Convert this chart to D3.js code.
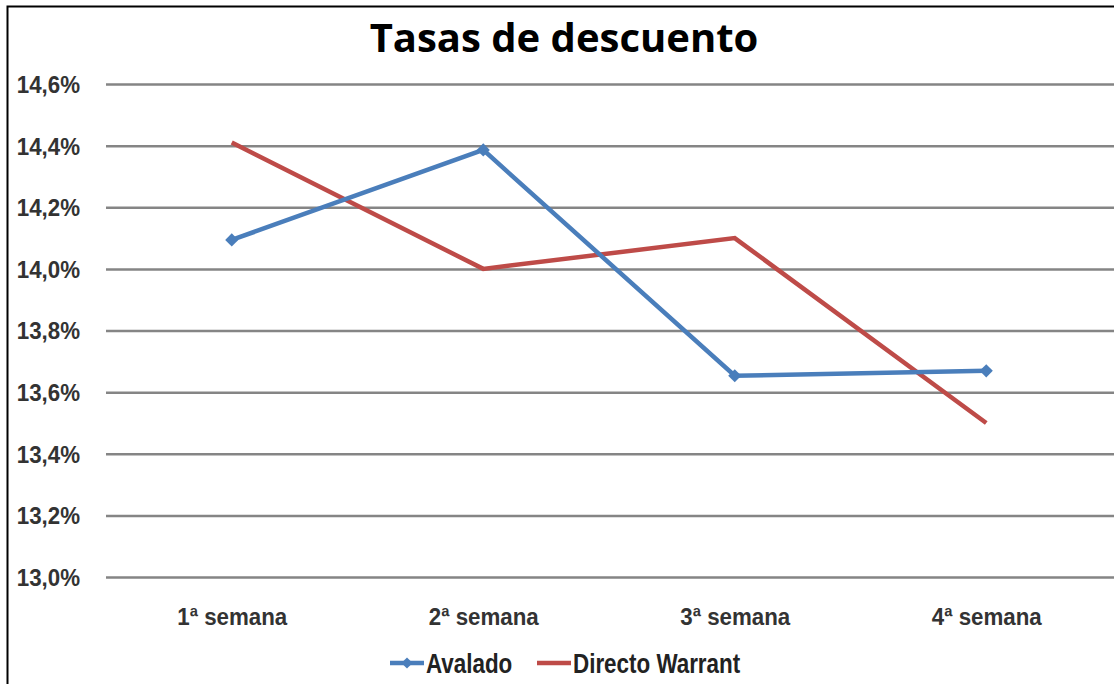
<!DOCTYPE html>
<html>
<head>
<meta charset="utf-8">
<script src="https://cdn.jsdelivr.net/npm/d3@7"></script>
<style>
  body { margin: 0; background: #fff; }
  svg { display: block; }
  .tick text { font-family: "Liberation Sans", Arial, sans-serif; font-weight: bold; fill: #333; }
</style>
</head>
<body>
<div id="chart"></div>
<script>
// data
var weeks = ["1ª semana", "2ª semana", "3ª semana", "4ª semana"];
var avalado = [14.094, 14.386, 13.653, 13.669];
var directo = [14.41, 14.0, 14.1, 13.50];
var seriesNames = ["Avalado", "Directo Warrant"];
var yTicks = [13.0, 13.2, 13.4, 13.6, 13.8, 14.0, 14.2, 14.4, 14.6];

var W = 1114, H = 684;
var margin = {top: 84, right: 0, bottom: 107, left: 106};
var width = W - margin.left - margin.right,
    height = H - margin.top - margin.bottom;
var squeeze = 0.93; // labels use a narrow face in the original

var svg = d3.select("#chart").append("svg")
  .attr("width", W)
  .attr("height", H);

// frame (only top and left edges show in the picture)
svg.append("path")
  .attr("d", "M7.5," + H + "V6.5H" + W)
  .attr("fill", "none")
  .attr("stroke", "#000")
  .attr("stroke-width", 2);

var g = svg.append("g")
  .attr("transform", "translate(" + margin.left + "," + margin.top + ")");

var x = d3.scalePoint()
  .domain(weeks)
  .range([0, 1006])
  .padding(0.5);

var y = d3.scaleLinear()
  .domain([13.0, 14.6])
  .range([height, 0]);

// gridlines + y labels
var yAxis = g.append("g")
  .call(d3.axisLeft(y)
    .tickValues(yTicks)
    .tickSize(-width)
    .tickFormat(function(d){ return d.toFixed(1).replace(".", ",") + "%"; }));
yAxis.select(".domain").remove();
yAxis.selectAll(".tick line").attr("stroke", "#858585").attr("stroke-width", 2.5);
yAxis.selectAll(".tick text")
  .attr("font-size", 24)
  .attr("dy", "0.35em")
  .attr("x", -26 / squeeze)
  .attr("transform", "scale(" + squeeze + ",1)");

// x labels
var xAxis = g.append("g")
  .attr("transform", "translate(0," + height + ")")
  .call(d3.axisBottom(x).tickSize(0).tickPadding(31));
xAxis.select(".domain").remove();
xAxis.selectAll(".tick text")
  .attr("font-size", 24)
  .attr("transform", "scale(" + squeeze + ",1)");

var line = d3.line()
  .x(function(d, i){ return x(weeks[i]); })
  .y(function(d){ return y(d); });

g.append("path")
  .datum(directo)
  .attr("fill", "none")
  .attr("stroke", "#be4b48")
  .attr("stroke-width", 4.5)
  .attr("d", line);

g.append("path")
  .datum(avalado)
  .attr("fill", "none")
  .attr("stroke", "#4a7ebb")
  .attr("stroke-width", 4.5)
  .attr("d", line);

var diamond = d3.symbol().type(d3.symbolDiamond2).size(110);

g.selectAll(".pt")
  .data(avalado)
  .enter().append("path")
  .attr("class", "pt")
  .attr("fill", "#4a7ebb")
  .attr("transform", function(d, i){ return "translate(" + x(weeks[i]) + "," + y(d) + ")"; })
  .attr("d", diamond);

// title
svg.append("text")
  .attr("x", 564)
  .attr("y", 52)
  .attr("text-anchor", "middle")
  .attr("font-family", "'Open Sans', sans-serif")
  .attr("font-weight", "bold")
  .attr("font-size", 40)
  .attr("fill", "#000")
  .text("Tasas de descuento");

// legend
var legend = svg.append("g").attr("transform", "translate(390,663)");
var legItems = [
  {name: seriesNames[0], color: "#4a7ebb", x: 0, marker: true},
  {name: seriesNames[1], color: "#be4b48", x: 147, marker: false}
];
legItems.forEach(function(it){
  var li = legend.append("g").attr("transform", "translate(" + it.x + ",0)");
  li.append("line")
    .attr("x1", 0).attr("x2", 34)
    .attr("stroke", it.color).attr("stroke-width", 4.5);
  if (it.marker) {
    li.append("path")
      .attr("transform", "translate(17,0)")
      .attr("fill", it.color)
      .attr("d", d3.symbol().type(d3.symbolDiamond2).size(80));
  }
  li.append("text")
    .attr("transform", "translate(36,0) scale(0.83,1)")
    .attr("dy", "0.36em")
    .attr("font-family", "'Liberation Sans', Arial, sans-serif")
    .attr("font-weight", "bold")
    .attr("font-size", 27)
    .attr("fill", "#222")
    .text(it.name);
});
</script>
</body>
</html>
